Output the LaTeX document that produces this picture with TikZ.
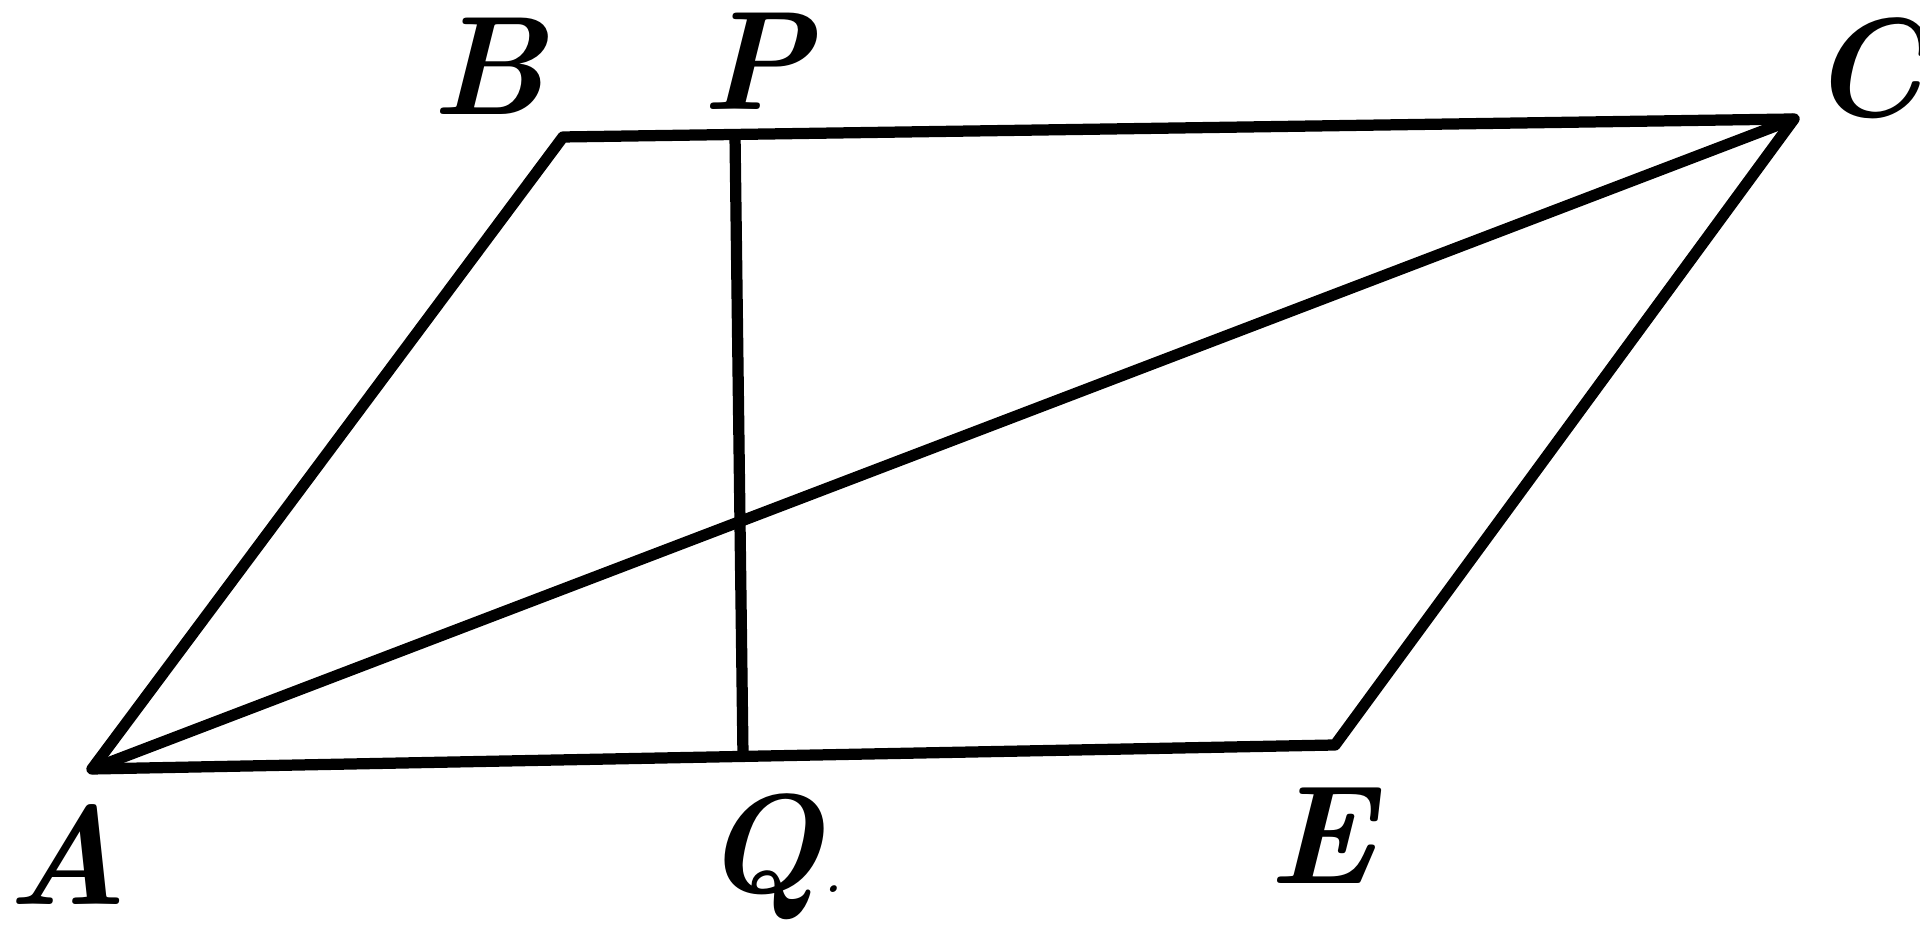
\documentclass[tikz,border=0pt]{standalone}
\usepackage{tikz}
\usetikzlibrary{calc}

\tikzset{
    edge/.style={line width=3.2pt, line join=round, line cap=round},
    letter/.style={inner sep=0pt, font=\fontsize{40}{48}\selectfont\bfseries\itshape}
}

\begin{document}
\begin{tikzpicture}
    \useasboundingbox (0,0) rectangle (19.2,9.45);
    \coordinate (A) at (0.92,1.76);
    \coordinate (B) at (5.63,8.08);
    \coordinate (C) at (17.94,8.26);
    \coordinate (E) at (13.35,2.00);
    \coordinate (P) at (7.35,8.10);
    \coordinate (Q) at (7.43,1.89);
    \draw[edge] (A) -- (B) -- (C) -- (E) -- cycle;
    \draw[edge] (A) -- (C);
    \draw[edge] (P) -- (Q);
    \node[letter] (labA) at (0.67,0.90) {A};
    \node[letter] (labB) at (4.89,8.79) {B};
    \node[letter] (labP) at (7.57,8.84) {P};
    \node[letter] (labC) at (18.67,8.77) {C};
    \node[letter] (labE) at (13.22,1.09) {E};
    \node[letter, anchor=base west] (labQ) at (7.02,0.52) {Q{\fontsize{20}{24}\selectfont\mdseries.}};
\end{tikzpicture}
\end{document}
